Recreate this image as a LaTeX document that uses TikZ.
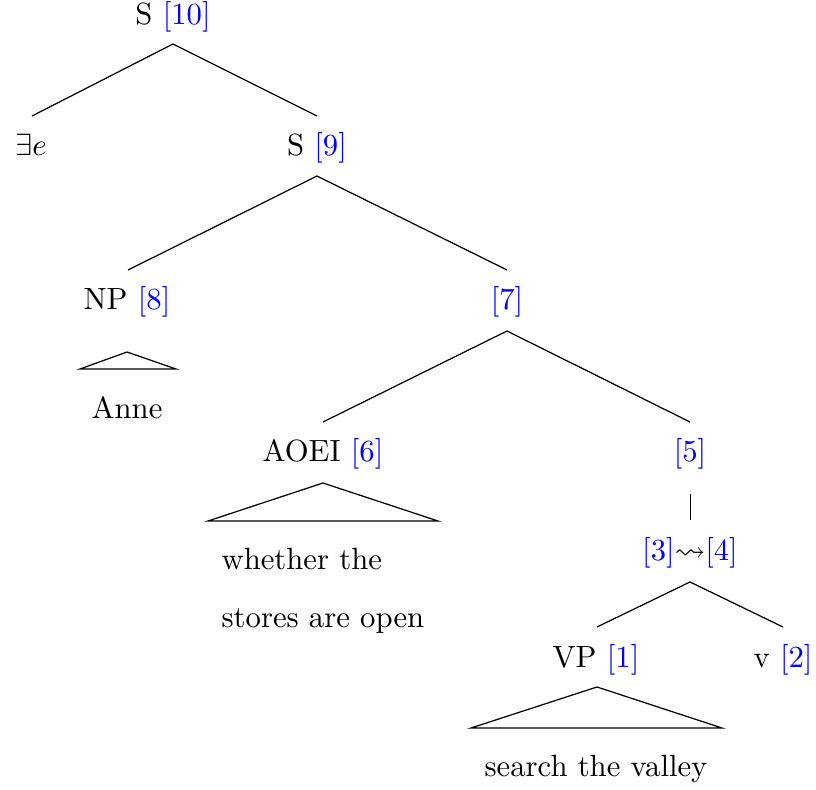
\documentclass[tikz,border=0pt]{standalone}
\usepackage{amssymb}
\usetikzlibrary{calc}
\begin{document}
\begin{tikzpicture}[x=0.3257pt, y=-0.3257pt,
  lbl/.style={inner sep=0pt, text height=7.5pt, text depth=2.5pt, anchor=center},
  branch/.style={draw=black, line width=0.4pt},
  roof/.style={draw=black, line width=0.4pt}]
\useasboundingbox (0,0) rectangle (816,790);

% node labels
\node[lbl] (s10)  at (173,17)  {S \textcolor{blue}{[10]}};
\node[lbl] (ex)   at (31,148)  {$\exists e$};
\node[lbl] (s9)   at (317,148) {S \textcolor{blue}{[9]}};
\node[lbl] (np)   at (127,302) {NP \textcolor{blue}{[8]}};
\node[lbl] (n7)   at (507,302) {\textcolor{blue}{[7]}};
\node[lbl] (anne) at (127,411) {Anne};
\node[lbl] (aoei) at (323,454) {AOEI \textcolor{blue}{[6]}};
\node[lbl] (n5)   at (690,454) {\textcolor{blue}{[5]}};
\node[anchor=base west, inner sep=0pt, align=left] (wh) at (221,628)
  {whether the\\[6.9pt] stores are open};
\node[lbl] (n34)  at (690,553) {\textcolor{blue}{[3]}$\leadsto$\textcolor{blue}{[4]}};
\node[lbl] (vp)   at (596,660) {VP \textcolor{blue}{[1]}};
\node[lbl] (v2)   at (783,660) {v \textcolor{blue}{[2]}};
\node[lbl] (stv)  at (596,769) {search the valley};

% branches
\draw[branch] ($(s10)+(0,27)$) -- ($(ex)+(1,-32)$);
\draw[branch] ($(s10)+(0,27)$) -- ($(s9)+(0,-32)$);
\draw[branch] ($(s9)+(0,28)$) -- ($(np)+(1,-32)$);
\draw[branch] ($(s9)+(0,28)$) -- ($(n7)+(0,-32)$);
\draw[branch] ($(n7)+(0,29)$) -- ($(aoei)+(0,-32)$);
\draw[branch] ($(n7)+(0,29)$) -- ($(n5)+(0,-32)$);
\draw[branch] ($(n5)+(0.3,40)$) -- ($(n34)+(0.3,-33)$);
\draw[branch] ($(n34)+(0,29)$) -- ($(vp)+(1,-33)$);
\draw[branch] ($(n34)+(0,29)$) -- ($(v2)+(0,-33)$);

% roofs
\draw[roof] ($(np)+(0,50)$) -- ++(-47,17) -- ++(96,0) -- cycle;
\draw[roof] ($(aoei)+(0,29)$) -- ++(-115,38) -- ++(230,0) -- cycle;
\draw[roof] ($(vp)+(1,27)$) -- ++(-126,41) -- ++(251,0) -- cycle;
\end{tikzpicture}
\end{document}
